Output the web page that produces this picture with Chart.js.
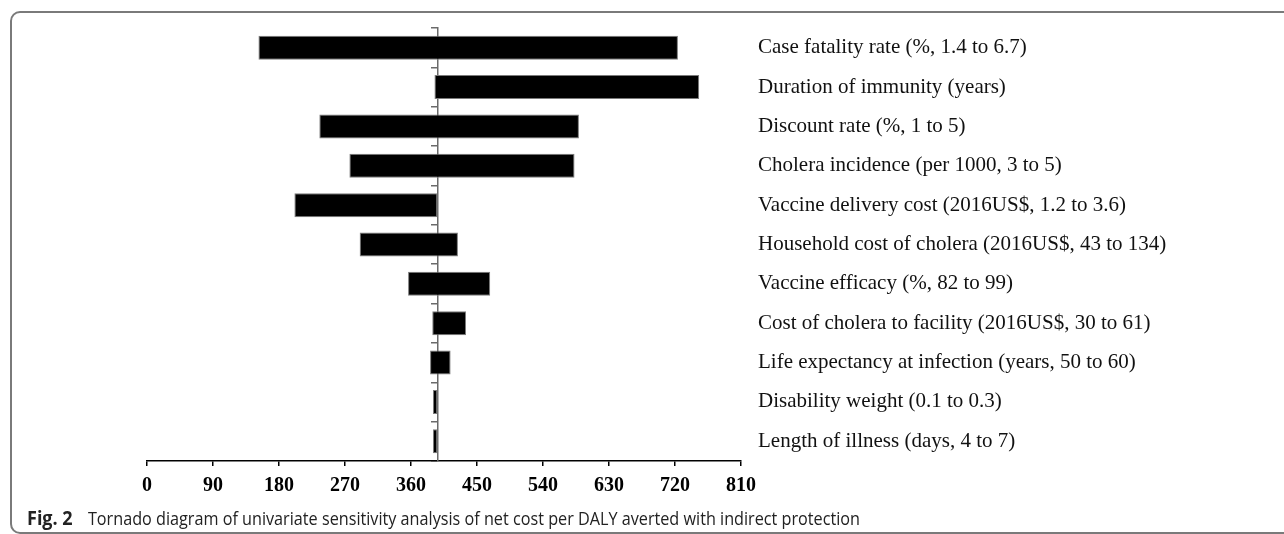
<!DOCTYPE html>
<html>
<head>
<meta charset="utf-8">
<script src="https://cdn.jsdelivr.net/npm/chart.js@4.4.1/dist/chart.umd.min.js"></script>
<style>
    html, body { margin: 0; padding: 0; background: #fff; }
    #wrap { position: relative; width: 1284px; height: 534px; overflow: hidden; }
    #frame {
        position: absolute; left: 10px; top: 11px; width: 1320px; height: 519px;
        border: 2px solid #7a7a7a; border-radius: 10px;
    }
    #chartBox { position: absolute; left: 0; top: 0; width: 1284px; height: 534px; }
    #caption {
        position: absolute; left: 27px; top: 505px; white-space: nowrap;
        font-family: "Open Sans", "Noto Sans", sans-serif; font-size: 18px; color: #222;
        line-height: 26px; transform: scaleX(0.9); transform-origin: left center;
    }
    #caption b { font-size: 20px; margin-right: 17px; }
</style>
</head>
<body>
<div id="wrap">
    <div id="frame"></div>
    <div id="chartBox"><canvas id="tornadoChart"></canvas></div>
    <div id="caption"><b>Fig. 2</b>Tornado diagram of univariate sensitivity analysis of net cost per DALY averted with indirect protection</div>
</div>
<script>
// Parametros da analise de sensibilidade (de cima para baixo)
var parametros = [
    'Case fatality rate (%, 1.4 to 6.7)',
    'Duration of immunity (years)',
    'Discount rate (%, 1 to 5)',
    'Cholera incidence (per 1000, 3 to 5)',
    'Vaccine delivery cost (2016US$, 1.2 to 3.6)',
    'Household cost of cholera (2016US$, 43 to 134)',
    'Vaccine efficacy (%, 82 to 99)',
    'Cost of cholera to facility (2016US$, 30 to 61)',
    'Life expectancy at infection (years, 50 to 60)',
    'Disability weight (0.1 to 0.3)',
    'Length of illness (days, 4 to 7)'
];

// limites de cada barra (custo liquido por DALY evitado)
var valoresMin = [152, 392, 235, 276, 201, 290, 356, 389, 386, 390, 390];
var valoresMax = [724, 753, 589, 583, 396, 424, 468, 435, 414, 396, 396];

// caso base (linha central)
var casoBase = 396;

// eixo x
var eixoMin = 0;
var eixoMax = 810;
var eixoPasso = 90;

var barras = [];
for (var i = 0; i < parametros.length; i++) {
    barras.push([valoresMin[i], valoresMax[i]]);
}

var tornadoChart = new Chart(document.getElementById('tornadoChart'), {
    type: 'bar',
    data: {
        labels: parametros,
        datasets: [{
            data: barras,
            backgroundColor: '#000000',
            borderColor: '#7a7a7a',
            borderWidth: 1,
            borderSkipped: false,
            barPercentage: 0.61,
            categoryPercentage: 1
        }]
    },
    options: {
        indexAxis: 'y',
        responsive: true,
        maintainAspectRatio: false,
        animation: false,
        layout: {
            padding: { left: 147, top: 28, right: 0, bottom: 33 }
        },
        plugins: {
            legend: { display: false },
            tooltip: { enabled: false }
        },
        scales: {
            x: {
                type: 'linear',
                position: 'bottom',
                min: eixoMin,
                max: eixoMax,
                afterFit: function(scale) { scale.height = 40; },
                grid: {
                    drawOnChartArea: false,
                    drawTicks: true,
                    tickLength: 5,
                    color: '#000',
                    lineWidth: 1.5
                },
                border: { display: true, color: '#000', width: 1.5 },
                ticks: {
                    stepSize: eixoPasso,
                    padding: 8,
                    color: '#000',
                    font: { family: '"Liberation Serif", "DejaVu Serif", serif', size: 20, weight: 'bold' }
                }
            },
            y: {
                type: 'category',
                position: 'right',
                offset: true,
                afterFit: function(scale) { scale.width = 1284 - 741; },
                grid: { display: false },
                border: { display: false },
                ticks: {
                    padding: 9,
                    color: '#111',
                    font: { family: '"Liberation Serif", "DejaVu Serif", serif', size: 21 }
                }
            },
            yBase: {
                type: 'category',
                axis: 'y',
                position: { x: casoBase },
                offset: true,
                z: 1,
                grid: {
                    offset: true,
                    drawOnChartArea: false,
                    drawTicks: true,
                    tickLength: 6,
                    color: '#6a6a6a',
                    lineWidth: 1.5
                },
                border: { display: true, color: '#6a6a6a', width: 1.5 },
                ticks: { display: false }
            }
        }
    }
});
</script>
</body>
</html>
